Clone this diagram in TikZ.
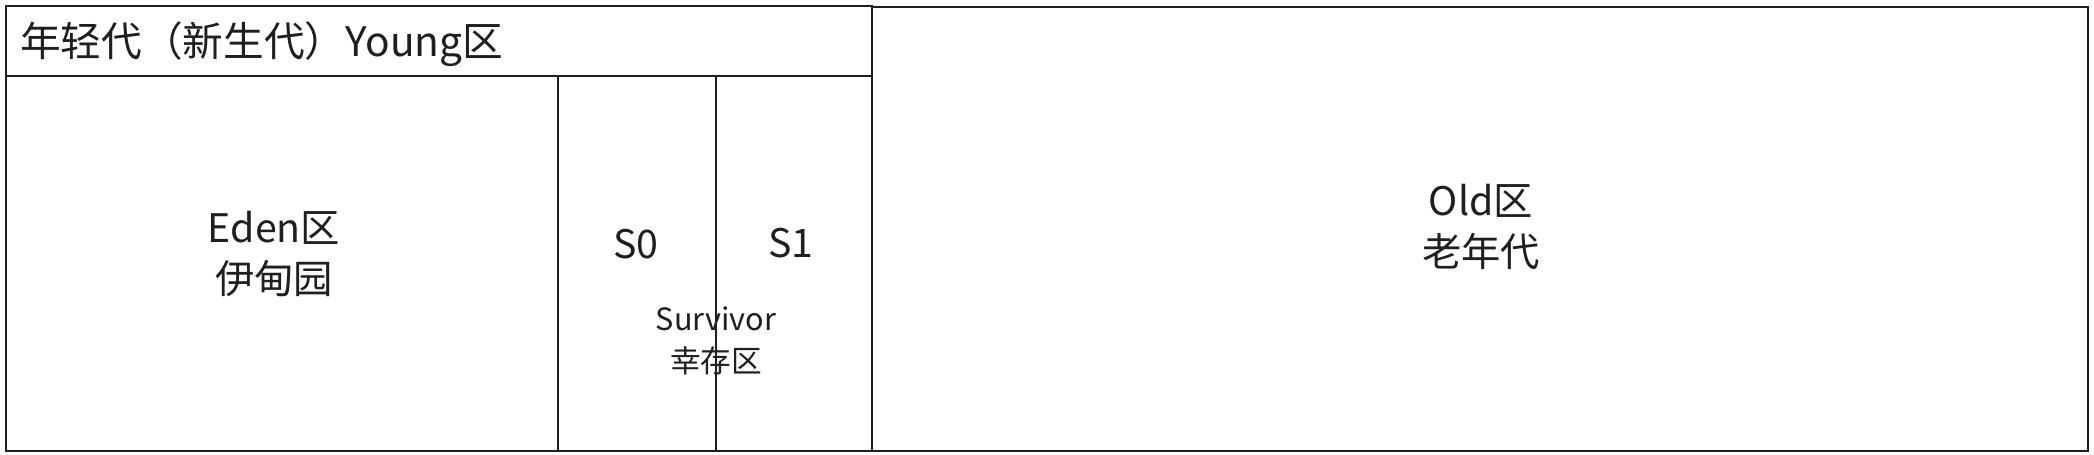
\documentclass[tikz,border=0pt]{standalone}
\usepackage{fontspec}
\setmainfont{Noto Sans CJK SC}
\begin{document}
\begin{tikzpicture}[x=0.75pt,y=-0.75pt,
  frame/.style={draw=black!88,line width=1.6pt},
  divider/.style={draw=black!88,line width=1.2pt},
  big/.style={font=\fontsize{29.5}{38}\selectfont,text=black!88,align=center,inner sep=0pt},
  small/.style={font=\fontsize{23}{31}\selectfont,text=black!88,align=center,inner sep=0pt}]
\useasboundingbox (0,0) rectangle (2094,454);
\fill[white] (0,0) rectangle (2094,454);
% young generation box
\coordinate (yTL) at (6,6);
\coordinate (yBR) at (872,451);
\draw[frame] (yTL) rectangle (yBR);
\coordinate (hL) at (6,76);
\coordinate (hR) at (872,76);
\draw[divider] (hL) -- (hR);
\coordinate (e1) at (558,76);
\coordinate (e2) at (558,451);
\draw[divider] (e1) -- (e2);
\coordinate (s1) at (716,76);
\coordinate (s2) at (716,451);
\draw[divider] (s1) -- (s2);
% old generation box
\coordinate (oTL) at (872,7);
\coordinate (oBR) at (2088,451);
\draw[frame] (oTL) rectangle (oBR);
% texts
\node[big,anchor=west,font=\fontsize{30.5}{38}\selectfont] (young) at (20,44) {年轻代（新生代）Young区};
\node[big] (eden) at (274,254) {Eden区\\伊甸园};
\node[big] (S0) at (636,244) {S0};
\node[big] (S1) at (791,243) {S1};
\node[small] (surv) at (716,341) {Survivor\\幸存区};
\node[big] (old) at (1481,227) {Old区\\老年代};
\end{tikzpicture}
\end{document}
